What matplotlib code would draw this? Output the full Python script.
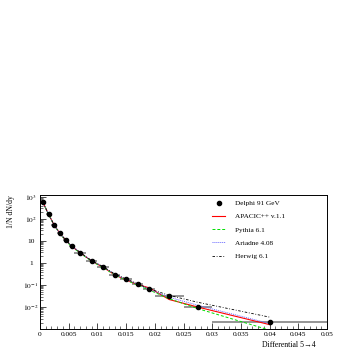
import numpy as np
import matplotlib
matplotlib.use("Agg")
import matplotlib.pyplot as plt
from matplotlib.ticker import FixedLocator, NullFormatter, MultipleLocator

plt.rcParams['font.family'] = ['Liberation Serif', 'DejaVu Serif']
plt.rcParams['mathtext.fontset'] = 'stix'

# Delphi data: bin edges, centres, values
bin_lo = [0.0, 0.001, 0.002, 0.003, 0.004, 0.005, 0.006, 0.008, 0.010, 0.012,
          0.014, 0.016, 0.018, 0.020, 0.025, 0.030]
bin_hi = [0.001, 0.002, 0.003, 0.004, 0.005, 0.006, 0.008, 0.010, 0.012, 0.014,
          0.016, 0.018, 0.020, 0.025, 0.030, 0.050]
x_data = [0.0005, 0.0015, 0.0025, 0.0035, 0.0045, 0.0055, 0.007, 0.009, 0.011,
          0.013, 0.015, 0.017, 0.019, 0.0225, 0.0275, 0.040]
y_data = [560, 158, 51, 22, 10.7, 5.9, 2.96, 1.25, 0.66, 0.30, 0.18, 0.11,
          0.068, 0.032, 0.0105, 0.0022]
y_err = [30, 8, 3, 1.2, 0.6, 0.35, 0.15, 0.07, 0.04, 0.02, 0.012, 0.008,
         0.005, 0.003, 0.0012, 0.0004]

# model curves at the bin centres
apacic = [570, 160, 50, 21.5, 10.5, 5.8, 2.9, 1.22, 0.64, 0.29, 0.17, 0.105,
          0.075, 0.022, 0.0100, 0.0016]
pythia = [565, 156, 49, 21, 10.2, 5.6, 2.8, 1.18, 0.62, 0.29, 0.165, 0.10,
          0.060, 0.024, 0.0085, 0.0009]
ariadne = [560, 157, 50, 21.5, 10.6, 5.9, 2.95, 1.25, 0.67, 0.31, 0.18, 0.11,
           0.065, 0.028, 0.0120, 0.0018]
herwig = [555, 159, 51, 22, 10.8, 6.0, 3.0, 1.27, 0.68, 0.32, 0.19, 0.115,
          0.068, 0.034, 0.0165, 0.0035]

series_names = ['APACIC++ v.1.1', 'Pythia 6.1', 'Ariadne 4.08', 'Herwig 6.1']

fig = plt.figure(figsize=(3.54, 3.54), dpi=100)
ax = fig.add_axes([0.113, 0.071, 0.811, 0.378])

x = np.array(x_data)
xerr = [x - np.array(bin_lo), np.array(bin_hi) - x]
ax.errorbar(x, y_data, xerr=xerr, fmt='none', ecolor='0.55', elinewidth=1.3, zorder=2)
ax.errorbar(x, y_data, yerr=y_err, fmt='none', ecolor='black', elinewidth=0.6, zorder=3)

styles = [dict(color='red', lw=0.8),
          dict(color='#00dd00', lw=0.7, ls=(0, (3, 2))),
          dict(color='#6666ff', lw=0.7, ls=(0, (1, 1))),
          dict(color='black', lw=0.6, ls=(0, (3, 2, 1, 2)))]
for vals, name, st in zip([apacic, pythia, ariadne, herwig], series_names, styles):
    ax.plot(x, vals, zorder=4, label=name, **st)
pts, = ax.plot(x, y_data, 'o', color='black', ms=3.0, zorder=5, label='Delphi 91 GeV')

ax.set_yscale('log')
ax.set_xlim(0, 0.05)
ax.set_ylim(1.03e-3, 1.2e3)

ax.xaxis.set_minor_locator(MultipleLocator(0.001))
xt = [0, 0.005, 0.01, 0.015, 0.02, 0.025, 0.03, 0.035, 0.04, 0.045, 0.05]
ax.set_xticks(xt)
ax.set_xticklabels(['0', '0.005', '0.01', '0.015', '0.02', '0.025', '0.03',
                    '0.035', '0.04', '0.045', '0.05'])

yt = [1e3, 1e2, 10, 1, 1e-1, 1e-2]
ax.yaxis.set_major_locator(FixedLocator(yt))
ax.set_yticklabels([r'$10^{3}$', r'$10^{2}$', '10', '1', r'$10^{-1}$', r'$10^{-2}$'])
ax.yaxis.set_minor_formatter(NullFormatter())

ax.tick_params(which='both', direction='in', labelsize=5.3)
ax.tick_params(axis='x', pad=2.5)
ax.tick_params(axis='y', pad=6.5)
for lab in ax.get_yticklabels():
    lab.set_horizontalalignment('center')
ax.tick_params(which='major', length=4, width=0.5)
ax.tick_params(which='minor', length=2, width=0.4)
for s in ax.spines.values():
    s.set_linewidth(0.7)

ax.set_ylabel('1/N dN/dy', fontsize=5.5, loc='top', labelpad=6)
ax.set_xlabel('Differential 5\u21924', fontsize=5.6, loc='right')
ax.xaxis.set_label_coords(0.96, -0.09)

handles, labels = ax.get_legend_handles_labels()
order = [4, 0, 1, 2, 3]
ax.legend([handles[i] for i in order], [labels[i] for i in order],
          loc='upper left', bbox_to_anchor=(0.6, 0.962),
          frameon=False, fontsize=5.2, handlelength=1.8, handletextpad=1.3,
          labelspacing=1.0, borderaxespad=0, borderpad=0)

fig.savefig('out.png', dpi=100)
